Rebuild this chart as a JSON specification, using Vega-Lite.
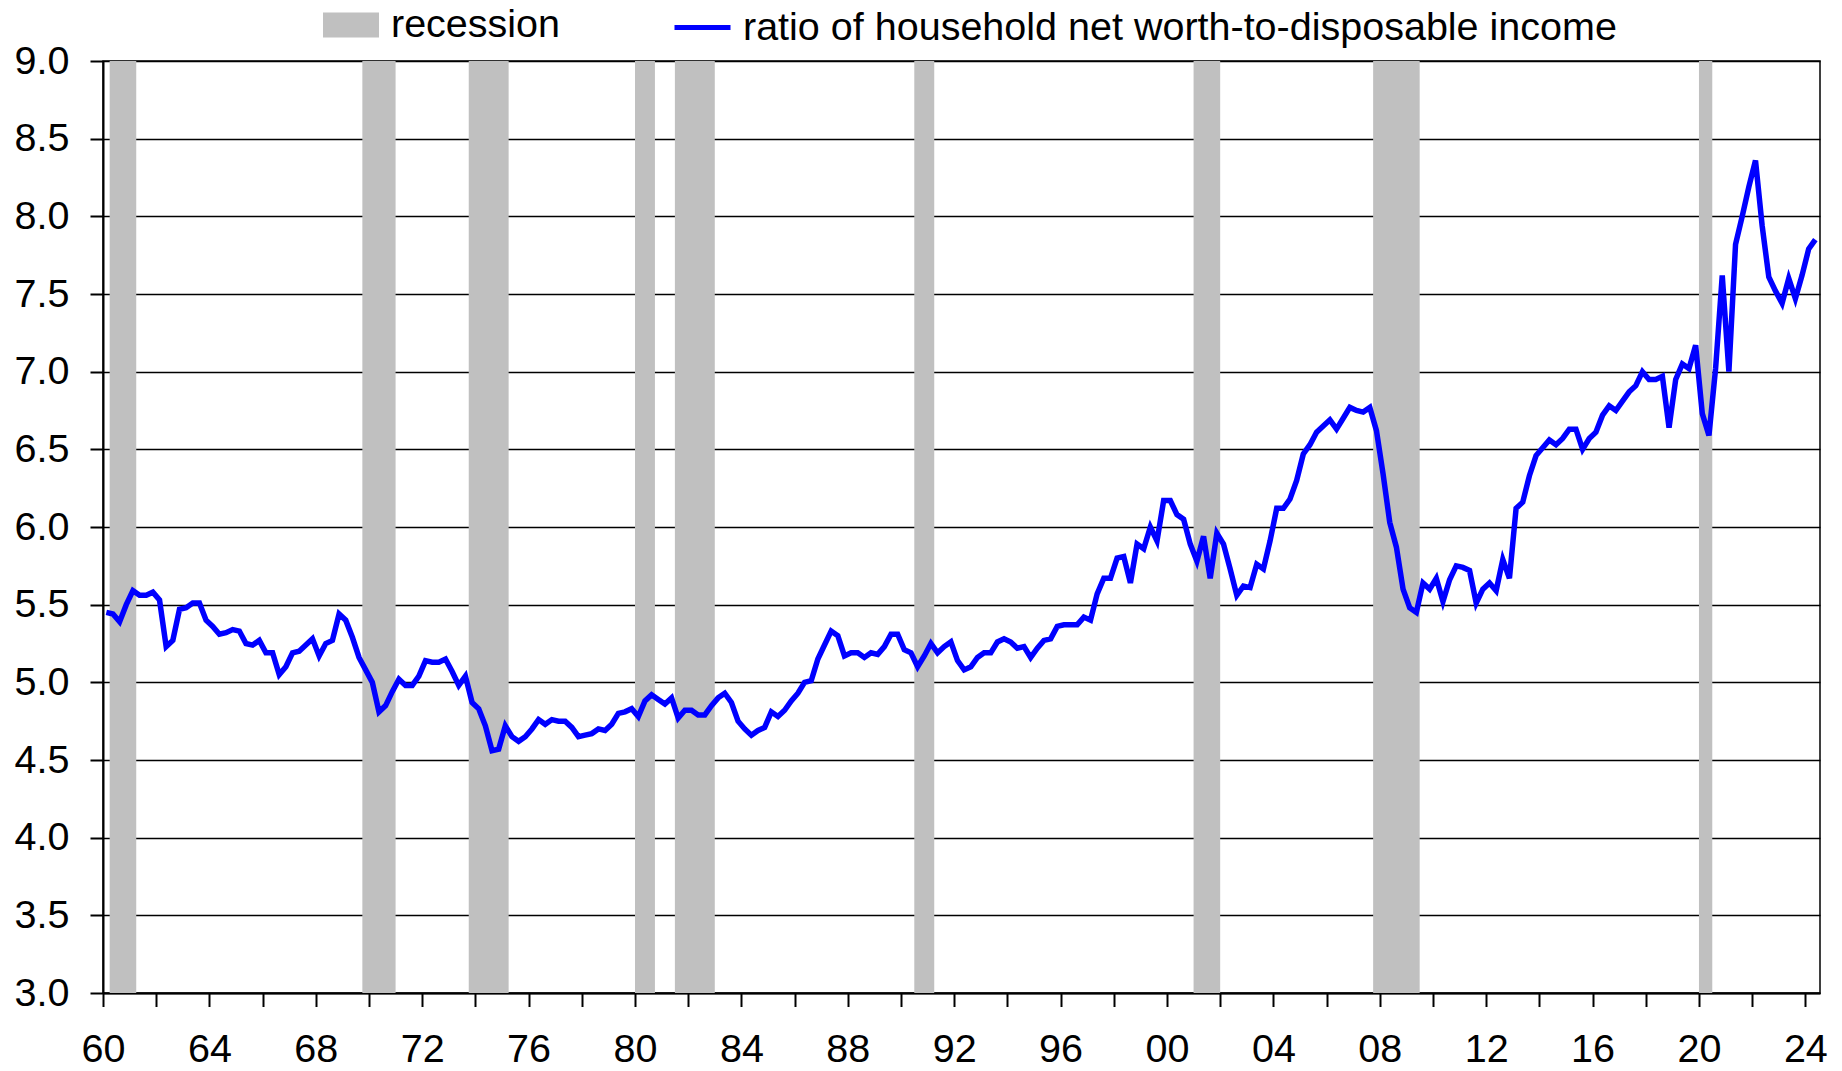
{
 "$schema": "https://vega.github.io/schema/vega-lite/v6.json",
 "width": 1717,
 "height": 932,
 "autosize": {"type": "none"},
 "padding": {"left": 103, "top": 61, "right": 22, "bottom": 78},
 "background": "white",
 "config": {
  "font": "Liberation Sans",
  "view": {"stroke": "black", "strokeWidth": 1.5},
  "legend": {"labelFont": "Liberation Sans", "labelFontSize": 39.5, "labelColor": "black", "labelLimit": 3000, "padding": 0, "title": null},
  "axisX": {"title": null, "values": [1960,1961,1962,1963,1964,1965,1966,1967,1968,1969,1970,1971,1972,1973,1974,1975,1976,1977,1978,1979,1980,1981,1982,1983,1984,1985,1986,1987,1988,1989,1990,1991,1992,1993,1994,1995,1996,1997,1998,1999,2000,2001,2002,2003,2004,2005,2006,2007,2008,2009,2010,2011,2012,2013,2014,2015,2016,2017,2018,2019,2020,2021,2022,2023,2024],
      "labelExpr": "datum.value % 4 === 0 ? ((datum.value % 100) < 10 ? '0' : '') + (datum.value % 100) : ''",
      "grid": false, "tickSize": 13.5, "tickWidth": 2, "tickColor": "black", "domainColor": "black", "domainWidth": 2,
      "labelFont": "Liberation Sans", "labelFontSize": 39.5, "labelColor": "black", "labelPadding": 24, "labelOverlap": false, "labelFlush": false, "zindex": 1}
 },
 "datasets": {
  "rec": [
   {"start": 1960.25, "end": 1961.25},
   {"start": 1969.75, "end": 1971.0},
   {"start": 1973.75, "end": 1975.25},
   {"start": 1980.0, "end": 1980.75},
   {"start": 1981.5, "end": 1983.0},
   {"start": 1990.5, "end": 1991.25},
   {"start": 2001.0, "end": 2002.0},
   {"start": 2007.75, "end": 2009.5},
   {"start": 2020.0, "end": 2020.5}
  ],
  "ratio": [
   {"t":1960.125,"v":5.45},{"t":1960.375,"v":5.44},{"t":1960.625,"v":5.39},{"t":1960.875,"v":5.50},
   {"t":1961.125,"v":5.59},{"t":1961.375,"v":5.56},{"t":1961.625,"v":5.56},{"t":1961.875,"v":5.58},
   {"t":1962.125,"v":5.53},{"t":1962.375,"v":5.23},{"t":1962.625,"v":5.27},{"t":1962.875,"v":5.47},
   {"t":1963.125,"v":5.48},{"t":1963.375,"v":5.51},{"t":1963.625,"v":5.51},{"t":1963.875,"v":5.40},
   {"t":1964.125,"v":5.36},{"t":1964.375,"v":5.31},{"t":1964.625,"v":5.32},{"t":1964.875,"v":5.34},
   {"t":1965.125,"v":5.33},{"t":1965.375,"v":5.25},{"t":1965.625,"v":5.24},{"t":1965.875,"v":5.27},
   {"t":1966.125,"v":5.19},{"t":1966.375,"v":5.19},{"t":1966.625,"v":5.05},{"t":1966.875,"v":5.10},
   {"t":1967.125,"v":5.19},{"t":1967.375,"v":5.20},{"t":1967.625,"v":5.24},{"t":1967.875,"v":5.28},
   {"t":1968.125,"v":5.17},{"t":1968.375,"v":5.25},{"t":1968.625,"v":5.27},{"t":1968.875,"v":5.44},
   {"t":1969.125,"v":5.40},{"t":1969.375,"v":5.29},{"t":1969.625,"v":5.16},{"t":1969.875,"v":5.08},
   {"t":1970.125,"v":5.00},{"t":1970.375,"v":4.81},{"t":1970.625,"v":4.85},{"t":1970.875,"v":4.94},
   {"t":1971.125,"v":5.02},{"t":1971.375,"v":4.98},{"t":1971.625,"v":4.98},{"t":1971.875,"v":5.04},
   {"t":1972.125,"v":5.14},{"t":1972.375,"v":5.13},{"t":1972.625,"v":5.13},{"t":1972.875,"v":5.15},
   {"t":1973.125,"v":5.07},{"t":1973.375,"v":4.98},{"t":1973.625,"v":5.04},{"t":1973.875,"v":4.87},
   {"t":1974.125,"v":4.83},{"t":1974.375,"v":4.72},{"t":1974.625,"v":4.56},{"t":1974.875,"v":4.57},
   {"t":1975.125,"v":4.72},{"t":1975.375,"v":4.65},{"t":1975.625,"v":4.62},{"t":1975.875,"v":4.65},
   {"t":1976.125,"v":4.70},{"t":1976.375,"v":4.76},{"t":1976.625,"v":4.73},{"t":1976.875,"v":4.76},
   {"t":1977.125,"v":4.75},{"t":1977.375,"v":4.75},{"t":1977.625,"v":4.71},{"t":1977.875,"v":4.65},
   {"t":1978.125,"v":4.66},{"t":1978.375,"v":4.67},{"t":1978.625,"v":4.70},{"t":1978.875,"v":4.69},
   {"t":1979.125,"v":4.73},{"t":1979.375,"v":4.80},{"t":1979.625,"v":4.81},{"t":1979.875,"v":4.83},
   {"t":1980.125,"v":4.78},{"t":1980.375,"v":4.88},{"t":1980.625,"v":4.92},{"t":1980.875,"v":4.89},
   {"t":1981.125,"v":4.86},{"t":1981.375,"v":4.90},{"t":1981.625,"v":4.77},{"t":1981.875,"v":4.82},
   {"t":1982.125,"v":4.82},{"t":1982.375,"v":4.79},{"t":1982.625,"v":4.79},{"t":1982.875,"v":4.85},
   {"t":1983.125,"v":4.90},{"t":1983.375,"v":4.93},{"t":1983.625,"v":4.87},{"t":1983.875,"v":4.75},
   {"t":1984.125,"v":4.70},{"t":1984.375,"v":4.66},{"t":1984.625,"v":4.69},{"t":1984.875,"v":4.71},
   {"t":1985.125,"v":4.81},{"t":1985.375,"v":4.78},{"t":1985.625,"v":4.82},{"t":1985.875,"v":4.88},
   {"t":1986.125,"v":4.93},{"t":1986.375,"v":5.00},{"t":1986.625,"v":5.01},{"t":1986.875,"v":5.15},
   {"t":1987.125,"v":5.24},{"t":1987.375,"v":5.33},{"t":1987.625,"v":5.30},{"t":1987.875,"v":5.17},
   {"t":1988.125,"v":5.19},{"t":1988.375,"v":5.19},{"t":1988.625,"v":5.16},{"t":1988.875,"v":5.19},
   {"t":1989.125,"v":5.18},{"t":1989.375,"v":5.23},{"t":1989.625,"v":5.31},{"t":1989.875,"v":5.31},
   {"t":1990.125,"v":5.21},{"t":1990.375,"v":5.19},{"t":1990.625,"v":5.10},{"t":1990.875,"v":5.17},
   {"t":1991.125,"v":5.25},{"t":1991.375,"v":5.19},{"t":1991.625,"v":5.23},{"t":1991.875,"v":5.26},
   {"t":1992.125,"v":5.14},{"t":1992.375,"v":5.08},{"t":1992.625,"v":5.10},{"t":1992.875,"v":5.16},
   {"t":1993.125,"v":5.19},{"t":1993.375,"v":5.19},{"t":1993.625,"v":5.26},{"t":1993.875,"v":5.28},
   {"t":1994.125,"v":5.26},{"t":1994.375,"v":5.22},{"t":1994.625,"v":5.23},{"t":1994.875,"v":5.16},
   {"t":1995.125,"v":5.22},{"t":1995.375,"v":5.27},{"t":1995.625,"v":5.28},{"t":1995.875,"v":5.36},
   {"t":1996.125,"v":5.37},{"t":1996.375,"v":5.37},{"t":1996.625,"v":5.37},{"t":1996.875,"v":5.42},
   {"t":1997.125,"v":5.40},{"t":1997.375,"v":5.57},{"t":1997.625,"v":5.67},{"t":1997.875,"v":5.67},
   {"t":1998.125,"v":5.80},{"t":1998.375,"v":5.81},{"t":1998.625,"v":5.64},{"t":1998.875,"v":5.89},
   {"t":1999.125,"v":5.86},{"t":1999.375,"v":6.00},{"t":1999.625,"v":5.91},{"t":1999.875,"v":6.17},
   {"t":2000.125,"v":6.17},{"t":2000.375,"v":6.08},{"t":2000.625,"v":6.05},{"t":2000.875,"v":5.89},
   {"t":2001.125,"v":5.78},{"t":2001.375,"v":5.94},{"t":2001.625,"v":5.67},{"t":2001.875,"v":5.96},
   {"t":2002.125,"v":5.89},{"t":2002.375,"v":5.73},{"t":2002.625,"v":5.56},{"t":2002.875,"v":5.62},
   {"t":2003.125,"v":5.61},{"t":2003.375,"v":5.76},{"t":2003.625,"v":5.73},{"t":2003.875,"v":5.91},
   {"t":2004.125,"v":6.12},{"t":2004.375,"v":6.12},{"t":2004.625,"v":6.18},{"t":2004.875,"v":6.30},
   {"t":2005.125,"v":6.47},{"t":2005.375,"v":6.53},{"t":2005.625,"v":6.61},{"t":2005.875,"v":6.65},
   {"t":2006.125,"v":6.69},{"t":2006.375,"v":6.63},{"t":2006.625,"v":6.70},{"t":2006.875,"v":6.77},
   {"t":2007.125,"v":6.75},{"t":2007.375,"v":6.74},{"t":2007.625,"v":6.77},{"t":2007.875,"v":6.62},
   {"t":2008.125,"v":6.34},{"t":2008.375,"v":6.03},{"t":2008.625,"v":5.87},{"t":2008.875,"v":5.60},
   {"t":2009.125,"v":5.48},{"t":2009.375,"v":5.45},{"t":2009.625,"v":5.64},{"t":2009.875,"v":5.60},
   {"t":2010.125,"v":5.67},{"t":2010.375,"v":5.52},{"t":2010.625,"v":5.66},{"t":2010.875,"v":5.75},
   {"t":2011.125,"v":5.74},{"t":2011.375,"v":5.72},{"t":2011.625,"v":5.51},{"t":2011.875,"v":5.60},
   {"t":2012.125,"v":5.64},{"t":2012.375,"v":5.59},{"t":2012.625,"v":5.79},{"t":2012.875,"v":5.67},
   {"t":2013.125,"v":6.12},{"t":2013.375,"v":6.16},{"t":2013.625,"v":6.33},{"t":2013.875,"v":6.46},
   {"t":2014.125,"v":6.51},{"t":2014.375,"v":6.56},{"t":2014.625,"v":6.53},{"t":2014.875,"v":6.57},
   {"t":2015.125,"v":6.63},{"t":2015.375,"v":6.63},{"t":2015.625,"v":6.50},{"t":2015.875,"v":6.57},
   {"t":2016.125,"v":6.61},{"t":2016.375,"v":6.72},{"t":2016.625,"v":6.78},{"t":2016.875,"v":6.75},
   {"t":2017.125,"v":6.81},{"t":2017.375,"v":6.87},{"t":2017.625,"v":6.91},{"t":2017.875,"v":7.00},
   {"t":2018.125,"v":6.95},{"t":2018.375,"v":6.95},{"t":2018.625,"v":6.97},{"t":2018.875,"v":6.64},
   {"t":2019.125,"v":6.95},{"t":2019.375,"v":7.05},{"t":2019.625,"v":7.02},{"t":2019.875,"v":7.17},
   {"t":2020.125,"v":6.73},{"t":2020.375,"v":6.59},{"t":2020.625,"v":7.02},{"t":2020.875,"v":7.62},
   {"t":2021.125,"v":7.00},{"t":2021.375,"v":7.82},{"t":2021.625,"v":8.00},{"t":2021.875,"v":8.19},
   {"t":2022.125,"v":8.36},{"t":2022.375,"v":7.94},{"t":2022.625,"v":7.61},{"t":2022.875,"v":7.52},
   {"t":2023.125,"v":7.44},{"t":2023.375,"v":7.60},{"t":2023.625,"v":7.47},{"t":2023.875,"v":7.62},
   {"t":2024.125,"v":7.79},{"t":2024.375,"v":7.85}
  ]
 },
 "layer": [
  {
   "data": {"name": "rec"},
   "mark": {"type": "rect", "strokeWidth": 0},
   "encoding": {
    "x": {"field": "start", "type": "quantitative", "title": null,
     "scale": {"domain": [1960, 2024.55], "nice": false, "zero": false}},
    "x2": {"field": "end"},
    "fill": {"datum": "recession", "type": "nominal", "scale": {"range": ["#C0C0C0"]},
     "legend": {"orient": "none", "legendX": 220, "legendY": -64, "symbolType": "M-1,-0.45H1V0.45H-1Z", "symbolSize": 3136, "symbolStrokeWidth": 0, "symbolOpacity": 1, "labelOffset": 12}}
   }
  },
  {
   "data": {"name": "ratio"},
   "mark": {"type": "line", "strokeWidth": 5.5},
   "encoding": {
    "x": {"field": "t", "type": "quantitative", "title": null},
    "y": {"field": "v", "type": "quantitative",
     "scale": {"domain": [3, 9], "nice": false, "zero": false},
     "axis": {"title": null, "values": [3,3.5,4,4.5,5,5.5,6,6.5,7,7.5,8,8.5,9], "format": ".1f",
      "grid": true, "gridColor": "black", "gridWidth": 1.5, "gridOpacity": 1,
      "tickSize": 13, "tickWidth": 2, "tickColor": "black", "domainColor": "black", "domainWidth": 2,
      "labelFont": "Liberation Sans", "labelFontSize": 39.5, "labelColor": "black", "labelPadding": 21}},
    "stroke": {"datum": "ratio of household net worth-to-disposable income", "type": "nominal", "scale": {"range": ["#0000FF"]},
     "legend": {"orient": "none", "legendX": 569, "legendY": -64, "symbolType": "stroke", "symbolSize": 3136, "symbolStrokeWidth": 5, "labelOffset": 10}}
   }
  }
 ]
}
